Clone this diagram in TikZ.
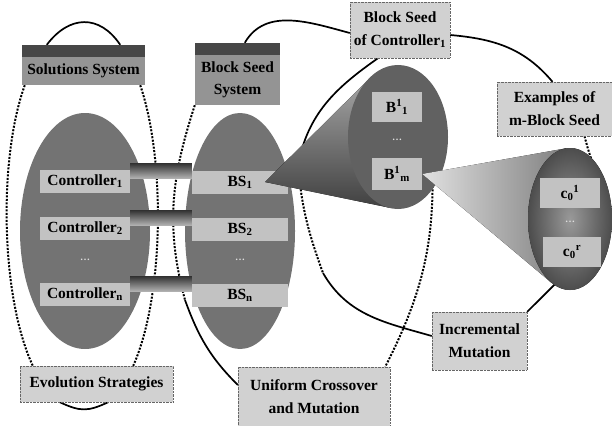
\documentclass[tikz,border=0pt]{standalone}
\usepackage{fontspec}
\setmainfont{Liberation Serif}
\usetikzlibrary{backgrounds}
\begin{document}
\begin{tikzpicture}[x=1pt, y=-1pt,
  lbl/.style={draw=black!60, densely dotted, fill=black!18, inner sep=0pt, align=center, font=\fontsize{15.5}{23}\selectfont\bfseries},
  sysbox/.style={fill=black!42, inner sep=0pt, align=center, font=\fontsize{15.5}{22}\selectfont\bfseries},
  band/.style={fill=black!72},
  blob/.style={fill=black!55},
  rowbox/.style={fill=black!24, inner sep=0pt, minimum height=23pt, font=\fontsize{15.5}{20}\selectfont\bfseries},
  etc/.style={text=black!12, font=\bfseries},
  bar/.style={top color=black!80, bottom color=black!30},
  ring/.style={line width=1.7pt},
  ringdot/.style={line width=2pt, dash pattern=on 2pt off 1.5pt}]
\useasboundingbox (0,0) rectangle (612,425);

\fill[blob] (85,231) ellipse [x radius=65, y radius=118];
\fill[blob] (240,231) ellipse [x radius=55, y radius=118];

\node[rowbox, minimum width=90pt] (ctl1) at (85,181) {Controller\textsubscript{1}};
\node[rowbox, minimum width=90pt] (ctl2) at (85,228) {Controller\textsubscript{2}};
\node[rowbox, minimum width=90pt] (ctln) at (85,294) {Controller\textsubscript{n}};
\node[rowbox, minimum width=96pt] (bs1) at (240,182) {BS\textsubscript{1}};
\node[rowbox, minimum width=96pt] (bs2) at (240,229) {BS\textsubscript{2}};
\node[rowbox, minimum width=96pt] (bsn) at (240,295) {BS\textsubscript{n}};
\node[etc] (dl) at (85,260) {\dots};
\node[etc] (dr) at (240,260) {\dots};

\fill[bar] ([yshift=6pt]ctl1.north east) rectangle ([yshift=-8pt]bs1.north west);
\fill[bar] ([yshift=6pt]ctl2.north east) rectangle ([yshift=-8pt]bs2.north west);
\fill[bar] ([yshift=6pt]ctln.north east) rectangle ([yshift=-8pt]bsn.north west);

\coordinate (apx1) at ([xshift=25pt]bs1.center);
\fill[top color=black!35, bottom color=black!75] (apx1) -- (370,78) -- (391,208) -- cycle;
\fill[fill=black!62] (398,137) ellipse [x radius=50, y radius=72];

\node[rowbox, minimum width=50pt, minimum height=30pt] (b11) at (397,107) {B\textsuperscript{1}\textsubscript{1}};
\node[etc] (db) at (397,140) {\dots};
\node[rowbox, minimum width=50pt, minimum height=32pt] (b1m) at (397,174) {B\textsuperscript{1}\textsubscript{m}};

\fill[left color=black!12, right color=black!50] (b1m.east) -- (565.6,148.4) -- (551.3,282.6) -- cycle;
\fill[inner color=black!40, outer color=black!70] (570,219) ellipse [x radius=42, y radius=71];

\node[rowbox, minimum width=60pt, minimum height=30pt] (c01) at (570,193) {c\textsubscript{0}\textsuperscript{1}};
\node[etc] (dc) at (570,222) {\dots};
\node[rowbox, minimum width=58pt, minimum height=30pt] (c0r) at (572,252) {c\textsubscript{0}\textsuperscript{r}};

\node[sysbox, minimum width=123pt, minimum height=28pt] (sol) at (83.5,71) {Solutions System};
\fill[band] ([yshift=12pt]sol.north west) rectangle (sol.north east);
\node[sysbox, minimum width=85pt, minimum height=50pt] (bss) at (237.5,80) {Block Seed\\System};
\fill[band] ([yshift=12pt]bss.north west) rectangle (bss.north east);
\node[lbl, minimum width=100pt, minimum height=56pt] (bsc) at (400,30) {Block Seed\\of Controller\textsubscript{1}};
\node[lbl, minimum width=115pt, minimum height=54pt] (exm) at (554.5,109) {Examples of\\m-Block Seed};
\node[lbl, minimum width=153pt, minimum height=36pt] (evo) at (96.5,384) {Evolution Strategies};
\node[lbl, minimum width=152pt, minimum height=60pt] (ucm) at (314,397) {Uniform Crossover\\and Mutation};
\node[lbl, minimum width=95pt, minimum height=58pt] (inc) at (479.5,341) {Incremental\\Mutation};

\begin{scope}[on background layer]
\draw[ring] ([xshift=25pt,yshift=12pt]sol.north west) to[out=53,in=124,looseness=1.3] ([xshift=-25pt,yshift=12pt]sol.north east);
\draw[ringdot] ([xshift=3pt]sol.south west) to[out=250,in=115,looseness=0.7] ([xshift=13pt]evo.north west);
\draw[ringdot] ([xshift=-5pt]sol.south east) to[out=-71,in=66,looseness=0.7] ([xshift=-40pt]evo.north east);
\draw[ring] ([xshift=40pt]evo.south west) to[out=-25,in=205,looseness=1.2] ([xshift=-65pt]evo.south east);

\coordinate (r2s) at (185,300);
\draw[ring] ([xshift=50pt,yshift=12pt]bss.north west) to[out=60,in=165] ([yshift=-3pt]bsc.west);
\draw[ringdot] (bss.south west) to[out=252,in=105] (r2s);
\draw[ring] (r2s) to[out=-70,in=135] ([yshift=12pt]ucm.west);
\draw[ringdot] ([xshift=10pt]b1m.north east) to[out=-88,in=63] ([xshift=-5pt]ucm.north east);

\coordinate (r3h) at (298,165);
\coordinate (r3s) at (323,273);
\draw[ring] ([xshift=-22pt]bsc.south) to[out=215,in=79] (r3h);
\draw[ringdot] (r3h) to[out=-85,in=110] (r3s);
\draw[ring] (r3s) to[out=-60,in=164] ([yshift=5pt]inc.west);
\draw[ring] ([yshift=-5pt]bsc.east) to[out=-5,in=130] ([xshift=-2pt]exm.north);
\draw[ringdot] ([xshift=30pt]exm.south) to[out=-75,in=120] (c01.north east);
\draw[ring] (c0r.south) -- (inc.north east);
\end{scope}
\end{tikzpicture}
\end{document}
